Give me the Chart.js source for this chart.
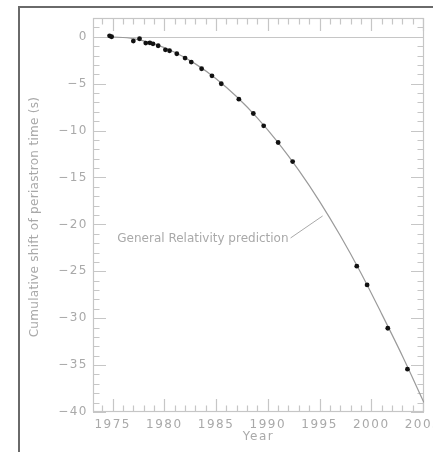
<!DOCTYPE html>
<html>
<head>
<meta charset="utf-8">
<script src="https://cdn.jsdelivr.net/npm/chart.js@4/dist/chart.umd.min.js"></script>
<style>
  html, body { margin: 0; padding: 0; background: #fff; }
  #wrap { position: relative; width: 433px; height: 452px; overflow: hidden; }
  #frame { position: absolute; left: 18px; top: 6px; right: -4px; bottom: -4px;
           border-top: 2px solid #6a6a6a; border-left: 2px solid #6a6a6a; }
  canvas { position: absolute; left: 0; top: 0; }
</style>
</head>
<body>
<div id="wrap">
  <div id="frame"></div>
  <canvas id="c" width="433" height="452"></canvas>
</div>
<script>
// measured points (year, cumulative shift in s)
const obsYears = [1974.7, 1974.9, 1977.0, 1977.6, 1978.2, 1978.6, 1978.9, 1979.4, 1980.1, 1980.5,
  1981.2, 1982.0, 1982.6, 1983.6, 1984.6, 1985.5, 1987.2, 1988.6, 1989.6, 1991.0,
  1992.4, 1998.6, 1999.6, 2001.6, 2003.5];
const obsShift = [0.1, 0.0, -0.46, -0.21, -0.67, -0.65, -0.75, -0.96, -1.39, -1.49,
  -1.81, -2.27, -2.7, -3.41, -4.16, -5.01, -6.65, -8.18, -9.49, -11.27,
  -13.3, -24.46, -26.45, -31.07, -35.44];

// GR prediction curve
const grYears = [1974.8, 1977, 1979, 1981, 1983, 1985, 1987, 1989, 1991, 1993, 1995, 1997, 1999, 2001, 2003, 2005.1];
const grShift = [0, -0.2, -0.76, -1.65, -2.89, -4.47, -6.4, -8.67, -11.29, -14.25, -17.54, -21.19, -25.18, -29.52, -34.0, -39.0];

const xMajor = [1975, 1980, 1985, 1990, 1995, 2000, 2005];
const xMinor = [1974, 1976, 1977, 1978, 1979, 1981, 1982, 1983, 1984, 1986, 1987, 1988, 1989,
  1991, 1992, 1993, 1994, 1996, 1997, 1998, 1999, 2001, 2002, 2003, 2004];
const yMajor = [-40, -35, -30, -25, -20, -15, -10, -5, 0];
const yMinor = [-39, -38, -37, -36, -34, -33, -32, -31, -29, -28, -27, -26, -24, -23, -22, -21,
  -19, -18, -17, -16, -14, -13, -12, -11, -9, -8, -7, -6, -4, -3, -2, -1, 1];

const noteText = "General Relativity prediction";
const noteFrom = { x: 1992.2, y: -21.45 };
const noteTo = { x: 1995.3, y: -19.1 };

const gray = "#a9a9a9";
const boxColor = "#c6c6c6";

const frameTicks = {
  id: "frameTicks",
  beforeDraw(chart) {
    chart.ctx.letterSpacing = "1.5px";
  },
  beforeDatasetsDraw(chart) {
    const { ctx, chartArea: a, scales: { x, y } } = chart;
    ctx.letterSpacing = "0px";
    ctx.save();
    ctx.strokeStyle = boxColor;
    ctx.lineWidth = 1.2;
    ctx.strokeRect(a.left + 0.5, a.top + 0.5, a.width - 1, a.height - 1);
    // zero line
    const y0 = Math.round(y.getPixelForValue(0)) + 0.5;
    ctx.beginPath();
    ctx.moveTo(a.left, y0);
    ctx.lineTo(a.right, y0);
    ctx.stroke();
    // inward ticks on all four sides
    ctx.beginPath();
    const xt = (vals, len) => vals.forEach(v => {
      const px = Math.round(x.getPixelForValue(v)) + 0.5;
      ctx.moveTo(px, a.bottom); ctx.lineTo(px, a.bottom - len);
      ctx.moveTo(px, a.top); ctx.lineTo(px, a.top + len);
    });
    const yt = (vals, len) => vals.forEach(v => {
      const py = Math.round(y.getPixelForValue(v)) + 0.5;
      ctx.moveTo(a.left, py); ctx.lineTo(a.left + len, py);
      ctx.moveTo(a.right, py); ctx.lineTo(a.right - len, py);
    });
    xt(xMajor, 13); xt(xMinor, 6.5);
    yt(yMajor, 13); yt(yMinor, 6.5);
    ctx.stroke();
    ctx.restore();
  },
  afterDatasetsDraw(chart) {
    const { ctx, chartArea: a, scales: { x, y } } = chart;
    ctx.save();
    ctx.letterSpacing = "0px";
    // annotation leader and text
    const x1 = x.getPixelForValue(noteFrom.x), y1 = y.getPixelForValue(noteFrom.y);
    const x2 = x.getPixelForValue(noteTo.x), y2 = y.getPixelForValue(noteTo.y);
    ctx.strokeStyle = gray;
    ctx.lineWidth = 1;
    ctx.beginPath();
    ctx.moveTo(x1, y1); ctx.lineTo(x2, y2);
    ctx.stroke();
    ctx.fillStyle = gray;
    ctx.font = "12px 'DejaVu Sans'";
    ctx.textAlign = "right";
    ctx.textBaseline = "middle";
    ctx.fillText(noteText, x1 - 2, y1 + 1);
    // axis titles
    ctx.textAlign = "center";
    ctx.letterSpacing = "1.5px";
    ctx.fillText("Year", (a.left + a.right) / 2, a.bottom + 25);
    ctx.letterSpacing = "0.3px";
    ctx.translate(a.left - 58, (a.top + a.bottom) / 2 + 2);
    ctx.rotate(-Math.PI / 2);
    ctx.fillText("Cumulative shift of periastron time (s)", 0, 0);
    ctx.restore();
  }
};

new Chart(document.getElementById("c"), {
  type: "scatter",
  data: {
    datasets: [
      {
        label: "Observed",
        data: obsYears.map((v, i) => ({ x: v, y: obsShift[i] })),
        backgroundColor: "#111",
        borderColor: "#111",
        pointRadius: 2.4,
        pointBorderWidth: 0,
        order: 0
      },
      {
        label: "General Relativity prediction",
        type: "line",
        data: grYears.map((v, i) => ({ x: v, y: grShift[i] })),
        borderColor: "#9a9a9a",
        borderWidth: 1.2,
        pointRadius: 0,
        cubicInterpolationMode: "monotone",
        fill: false,
        order: 1
      }
    ]
  },
  options: {
    responsive: false,
    animation: false,
    devicePixelRatio: 1,
    layout: { padding: { left: 24, right: 9, top: 18, bottom: 4 } },
    plugins: {
      legend: { display: false },
      tooltip: { enabled: false }
    },
    scales: {
      x: {
        type: "linear",
        min: 1973.1,
        max: 2005.1,
        grid: { display: false, drawTicks: false },
        border: { display: false },
        ticks: {
          color: gray,
          font: { family: "DejaVu Sans", size: 12 },
          padding: 6,
          maxRotation: 0,
          autoSkip: false,
          callback: v => String(v)
        },
        afterBuildTicks: s => { s.ticks = xMajor.map(v => ({ value: v })); },
        afterFit: s => { s.height = 36; s.paddingLeft = 0; s.paddingRight = 0; }
      },
      y: {
        type: "linear",
        min: -40,
        max: 2,
        grid: { display: false, drawTicks: false },
        border: { display: false },
        ticks: {
          color: gray,
          font: { family: "DejaVu Sans", size: 12 },
          padding: 5,
          callback: v => (v < 0 ? "\u2212" + Math.abs(v) : String(v))
        },
        afterBuildTicks: s => { s.ticks = yMajor.map(v => ({ value: v })); },
        afterFit: s => { s.width = 69; s.paddingTop = 0; s.paddingBottom = 0; }
      }
    }
  },
  plugins: [frameTicks]
});
</script>
</body>
</html>
